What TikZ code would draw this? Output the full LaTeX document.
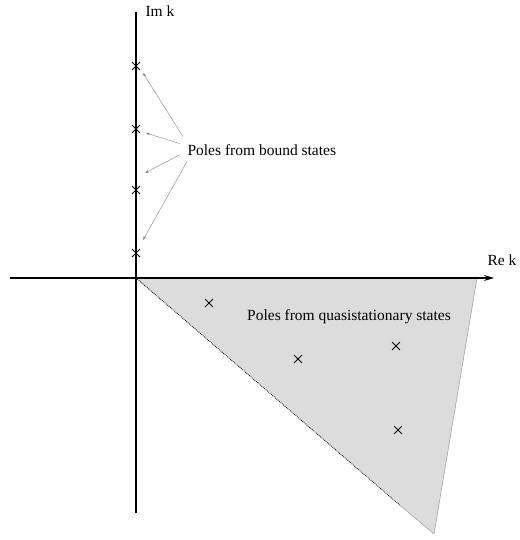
\documentclass[tikz,border=0pt]{standalone}
\usepackage{fontspec}
\setmainfont{Liberation Serif}
\usepackage{tikz}
\usetikzlibrary{arrows.meta,positioning,shapes.misc,calc}
\definecolor{regiongray}{RGB}{220,220,220}
\definecolor{edgegray}{gray}{0.6}
\definecolor{pointergray}{gray}{0.5}

\tikzset{
  pole/.style={cross out, draw, line width=0.9pt, minimum size=7pt, inner sep=0pt},
  pointer/.style={-{Stealth[length=4pt,width=2.5pt]}, pointergray, line width=0.4pt},
  axis/.style={line width=1.1pt},
  lbl/.style={font=\fontsize{15.5}{18}\selectfont}
}

\begin{document}
\begin{tikzpicture}[x=1pt,y=-1pt]
        \useasboundingbox (0,0) rectangle (519,540);
        % Quasistationary region
        \coordinate (O) at (136,278);
        \coordinate (qa) at (477,278);
        \coordinate (qb) at (434,534);
        \coordinate (qd) at (402,507);
        \fill[regiongray] (O) -- (qa) -- (qb) -- cycle;
        \draw[edgegray, line width=0.5pt] (qa) -- (qb) -- (qd);
        \draw[densely dotted, line width=0.8pt] (O) -- (qd);
        % Axes
        \coordinate (xl) at (10,278);
        \coordinate (xr) at (494,278);
        \coordinate (yt) at (136,12);
        \coordinate (yb) at (136,513);
        \draw[axis, -{Stealth[length=10pt,width=6pt]}] (xl) -- (xr);
        \draw[axis] (yb) -- (yt);
        \node[lbl, anchor=base west] (imk) at (142,17) {Im k};
        \node[lbl, anchor=base east] (rek) at (520,265) {Re k};
        % Bound-state poles
        \node[pole] (p1) at (136,66) {};
        \node[pole] (p2) at (136,129) {};
        \node[pole] (p3) at (136,190) {};
        \node[pole] (p4) at (136,253) {};
        \node[lbl, anchor=base west] (bound) at (184,156) {Poles from bound states};
        \draw[pointer] ([shift={(-1,-14)}]bound.west) -- ([shift={(7,7)}]p1.center);
        \draw[pointer] ([shift={(-4,-7)}]bound.west) -- ([shift={(10,4)}]p2.center);
        \draw[pointer] ([shift={(-4,4)}]bound.west) -- ([shift={(9,-17)}]p3.center);
        \draw[pointer] ([shift={(3,11)}]bound.west) -- ([shift={(7,-13)}]p4.center);
        % Quasistationary poles
        \node[pole] (q1) at (209,303) {};
        \node[pole] (q2) at (298,359) {};
        \node[pole] (q3) at (396,346) {};
        \node[pole] (q4) at (398,430) {};
        \node[lbl, anchor=base] (quasi) at (349,320) {Poles from quasistationary states};
\end{tikzpicture}
\end{document}
